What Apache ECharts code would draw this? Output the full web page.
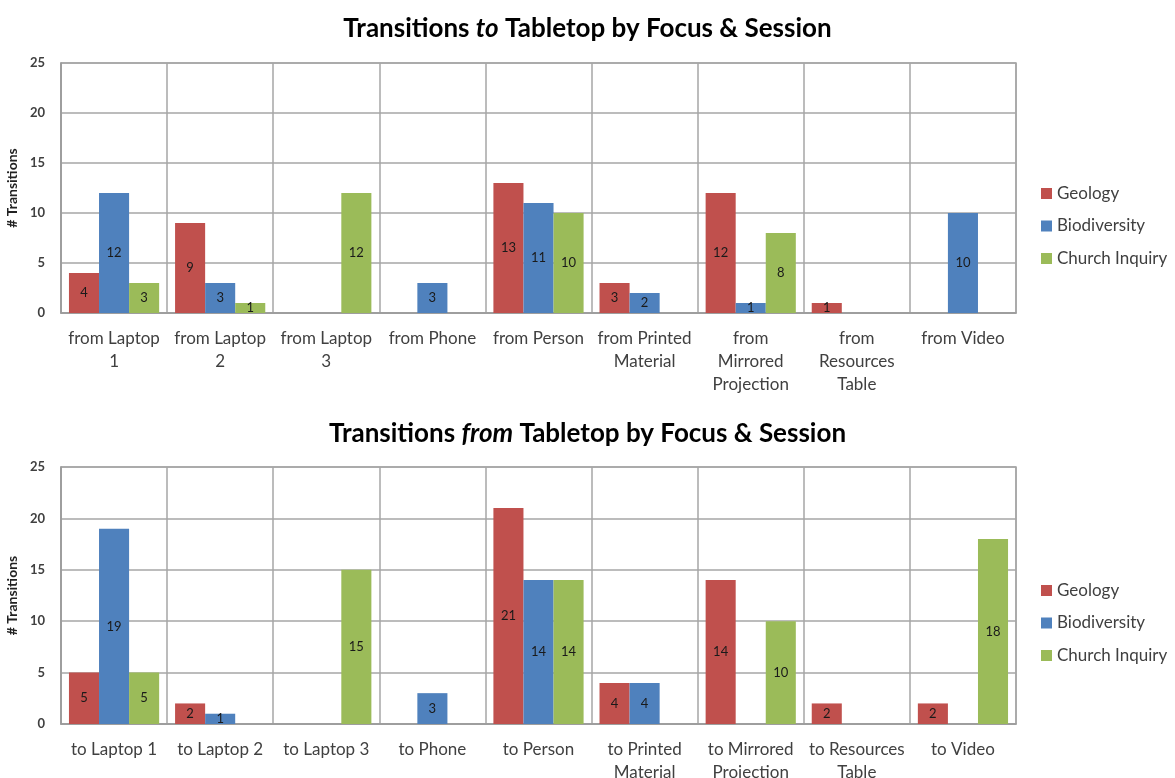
<!DOCTYPE html>
<html><head><meta charset="utf-8">
<script src="https://cdn.jsdelivr.net/npm/echarts@6/dist/echarts.min.js"></script>
<style>html,body{margin:0;padding:0;background:#fff}#c{width:1175px;height:778px}</style>
</head><body><div id="c"></div>
<script>
const seriesNames = ['Geology', 'Biodiversity', 'Church Inquiry'];
const topCategories = ['from Laptop\n1', 'from Laptop\n2', 'from Laptop\n3', 'from Phone', 'from Person', 'from Printed\nMaterial', 'from\nMirrored\nProjection', 'from\nResources\nTable', 'from Video'];
const topGeology = [4, 9, null, null, 13, 3, 12, 1, null];
const topBiodiversity = [12, 3, null, 3, 11, 2, 1, null, 10];
const topChurch = [3, 1, 12, null, 10, null, 8, null, null];
const bottomCategories = ['to Laptop 1', 'to Laptop 2', 'to Laptop 3', 'to Phone', 'to Person', 'to Printed\nMaterial', 'to Mirrored\nProjection', 'to Resources\nTable', 'to Video'];
const bottomGeology = [5, 2, null, null, 21, 4, 14, 2, 2];
const bottomBiodiversity = [19, 1, null, 3, 14, 4, null, null, null];
const bottomChurch = [5, null, 15, null, 14, null, 10, null, 18];
const yTicks = [0, 5, 10, 15, 20, 25];

const colors = ['#C0504D', '#4F81BD', '#9BBB59'];
const FONT = 'Lato';
const chart = echarts.init(document.getElementById('c'));

function xAxis(idx, cats) {
  return {
    type: 'category', gridIndex: idx, data: cats,
    axisLine: {lineStyle: {color: '#9a9a9a', width: 1.5}},
    axisTick: {show: false},
    splitLine: {show: true, lineStyle: {color: '#a6a6a6', width: 1.5}},
    axisLabel: {color: '#404040', fontSize: 17, fontFamily: FONT, lineHeight: 23, margin: 14, interval: 0}
  };
}
function yAxis(idx) {
  return {
    type: 'value', gridIndex: idx, min: yTicks[0], max: yTicks[yTicks.length - 1], interval: yTicks[1] - yTicks[0],
    name: '# Transitions', nameLocation: 'middle', nameGap: 37, nameRotate: 90,
    nameTextStyle: {color: '#222', fontSize: 14, fontWeight: 'bold', fontFamily: FONT},
    axisLine: {show: true, lineStyle: {color: '#9a9a9a', width: 1.5}},
    axisTick: {show: false},
    splitLine: {show: true, lineStyle: {color: '#a6a6a6', width: 1.5}},
    axisLabel: {color: '#404040', fontSize: 13, fontWeight: 'bold', fontFamily: FONT, margin: 16}
  };
}
function bar(name, data, i, axisIdx) {
  return {
    type: 'bar', name: name, data: data, xAxisIndex: axisIdx, yAxisIndex: axisIdx,
    barGap: '0%', barCategoryGap: '15%',
    itemStyle: {color: colors[i]},
    label: {show: true, position: 'inside', color: '#1a1a1a', fontSize: 13, fontFamily: FONT}
  };
}
const titleRich = {
  b: {fontSize: 26, fontWeight: 'bold', fontFamily: FONT, color: '#000'},
  i: {fontSize: 26, fontWeight: 'bold', fontStyle: 'italic', fontFamily: FONT, color: '#000'}
};
function legend(top) {
  return {
    data: seriesNames, orient: 'vertical', left: 1036, top: top, itemGap: 15.5,
    icon: 'rect', itemWidth: 11, itemHeight: 11,
    textStyle: {color: '#404040', fontSize: 17, fontFamily: FONT}
  };
}
const gridBase = {left: 61, right: 159, show: true, borderColor: '#a6a6a6', borderWidth: 1.5, outerBoundsMode: 'none', containLabel: false};
chart.setOption({
  animation: false,
  title: [
    {text: '{b|Transitions }{i|to}{b| Tabletop by Focus & Session}', left: 'center', top: 11, textStyle: {rich: titleRich}},
    {text: '{b|Transitions }{i|from}{b| Tabletop by Focus & Session}', left: 'center', top: 416, textStyle: {rich: titleRich}}
  ],
  legend: [legend(180), legend(577)],
  grid: [
    Object.assign({top: 63, height: 250}, gridBase),
    Object.assign({top: 467, height: 257}, gridBase)
  ],
  xAxis: [xAxis(0, topCategories), xAxis(1, bottomCategories)],
  yAxis: [yAxis(0), yAxis(1)],
  series: [
    bar(seriesNames[0], topGeology, 0, 0),
    bar(seriesNames[1], topBiodiversity, 1, 0),
    bar(seriesNames[2], topChurch, 2, 0),
    bar(seriesNames[0], bottomGeology, 0, 1),
    bar(seriesNames[1], bottomBiodiversity, 1, 1),
    bar(seriesNames[2], bottomChurch, 2, 1)
  ]
});
</script></body></html>
